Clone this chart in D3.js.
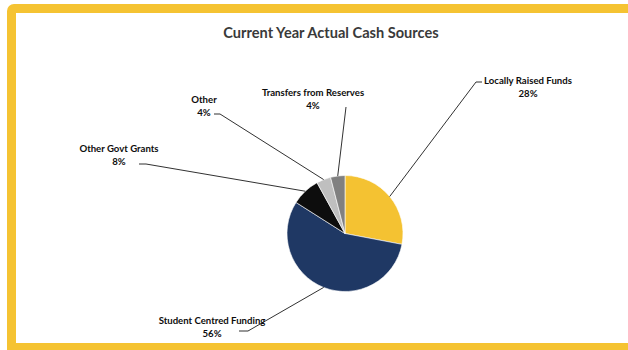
<!DOCTYPE html>
<html>
<head>
<meta charset="utf-8">
<script src="https://cdn.jsdelivr.net/npm/d3@7"></script>
<style>
  html, body { margin: 0; padding: 0; background: #fff; }
  svg { display: block; }
  text { font-family: Lato, "Open Sans", sans-serif; font-weight: 700; }
</style>
</head>
<body>
<svg id="chart" width="628" height="350"></svg>
<script>
// Cash sources for the current year (share of total, %)
const categories = [
  "Locally Raised Funds",
  "Student Centred Funding",
  "Other Govt Grants",
  "Other",
  "Transfers from Reserves"
];
const shares = [28, 56, 8, 4, 4];
const sliceColors = ["#F4C232", "#1F3864", "#0D0D0D", "#BFBFBF", "#808080"];
const chartTitle = "Current Year Actual Cash Sources";

// Label placement: centre of the two-line label, plus where the leader line leaves it
const labelLayout = [
  { x: 528, y: 80, anchor: [476, 82], tick: [482, 82] },
  { x: 212, y: 320, anchor: [248, 331], tick: [239, 331] },
  { x: 119, y: 148, anchor: [146, 164], tick: [139, 164] },
  { x: 204, y: 99, anchor: [220, 114], tick: [214, 114] },
  { x: 313, y: 92, anchor: [346, 107], tick: null }
];

const W = 628, H = 350;
const svg = d3.select("#chart");

// Frame
svg.append("rect").attr("x", 7).attr("y", 4).attr("width", 700).attr("height", 400)
  .attr("rx", 7).attr("fill", "#F5C332");
svg.append("rect").attr("x", 16).attr("y", 13).attr("width", 700).attr("height", 330)
  .attr("fill", "#FFFFFF");

// Title
svg.append("text")
  .attr("x", 331).attr("y", 38)
  .attr("text-anchor", "middle")
  .attr("font-size", 14.6)
  .attr("fill", "#3a3a3a")
  .text(chartTitle);

// Pie
const cx = 345, cy = 233.5, r = 58;
const pie = d3.pie().sort(null).value(d => d.value);
const arcs = pie(categories.map((c, i) => ({ name: c, value: shares[i], color: sliceColors[i] })));
const arc = d3.arc().innerRadius(0).outerRadius(r);

const g = svg.append("g").attr("transform", `translate(${cx},${cy})`);
g.selectAll("path").data(arcs).enter().append("path")
  .attr("d", arc)
  .attr("fill", d => d.data.color)
  .attr("stroke", "#FFFFFF")
  .attr("stroke-width", 0.6);

// Leader lines from each slice's outer midpoint to its label
const leaders = svg.append("g").attr("fill", "none").attr("stroke", "#1a1a1a").attr("stroke-width", 0.9);
arcs.forEach((d, i) => {
  const mid = (d.startAngle + d.endAngle) / 2;
  const px = cx + r * Math.sin(mid), py = cy - r * Math.cos(mid);
  const L = labelLayout[i];
  const pts = [[px, py], L.anchor];
  if (L.tick) pts.push(L.tick);
  leaders.append("path").attr("d", d3.line()(pts));
});

// Labels
const labels = svg.append("g").attr("fill", "#0d0d0d").attr("font-size", 9.6).attr("text-anchor", "middle");
arcs.forEach((d, i) => {
  const L = labelLayout[i];
  labels.append("text").attr("x", L.x).attr("y", L.y + 3.5).text(d.data.name);
  labels.append("text").attr("x", L.x).attr("y", L.y + 17).text(d3.format(".0f")(d.data.value) + "%");
});
</script>
</body>
</html>
